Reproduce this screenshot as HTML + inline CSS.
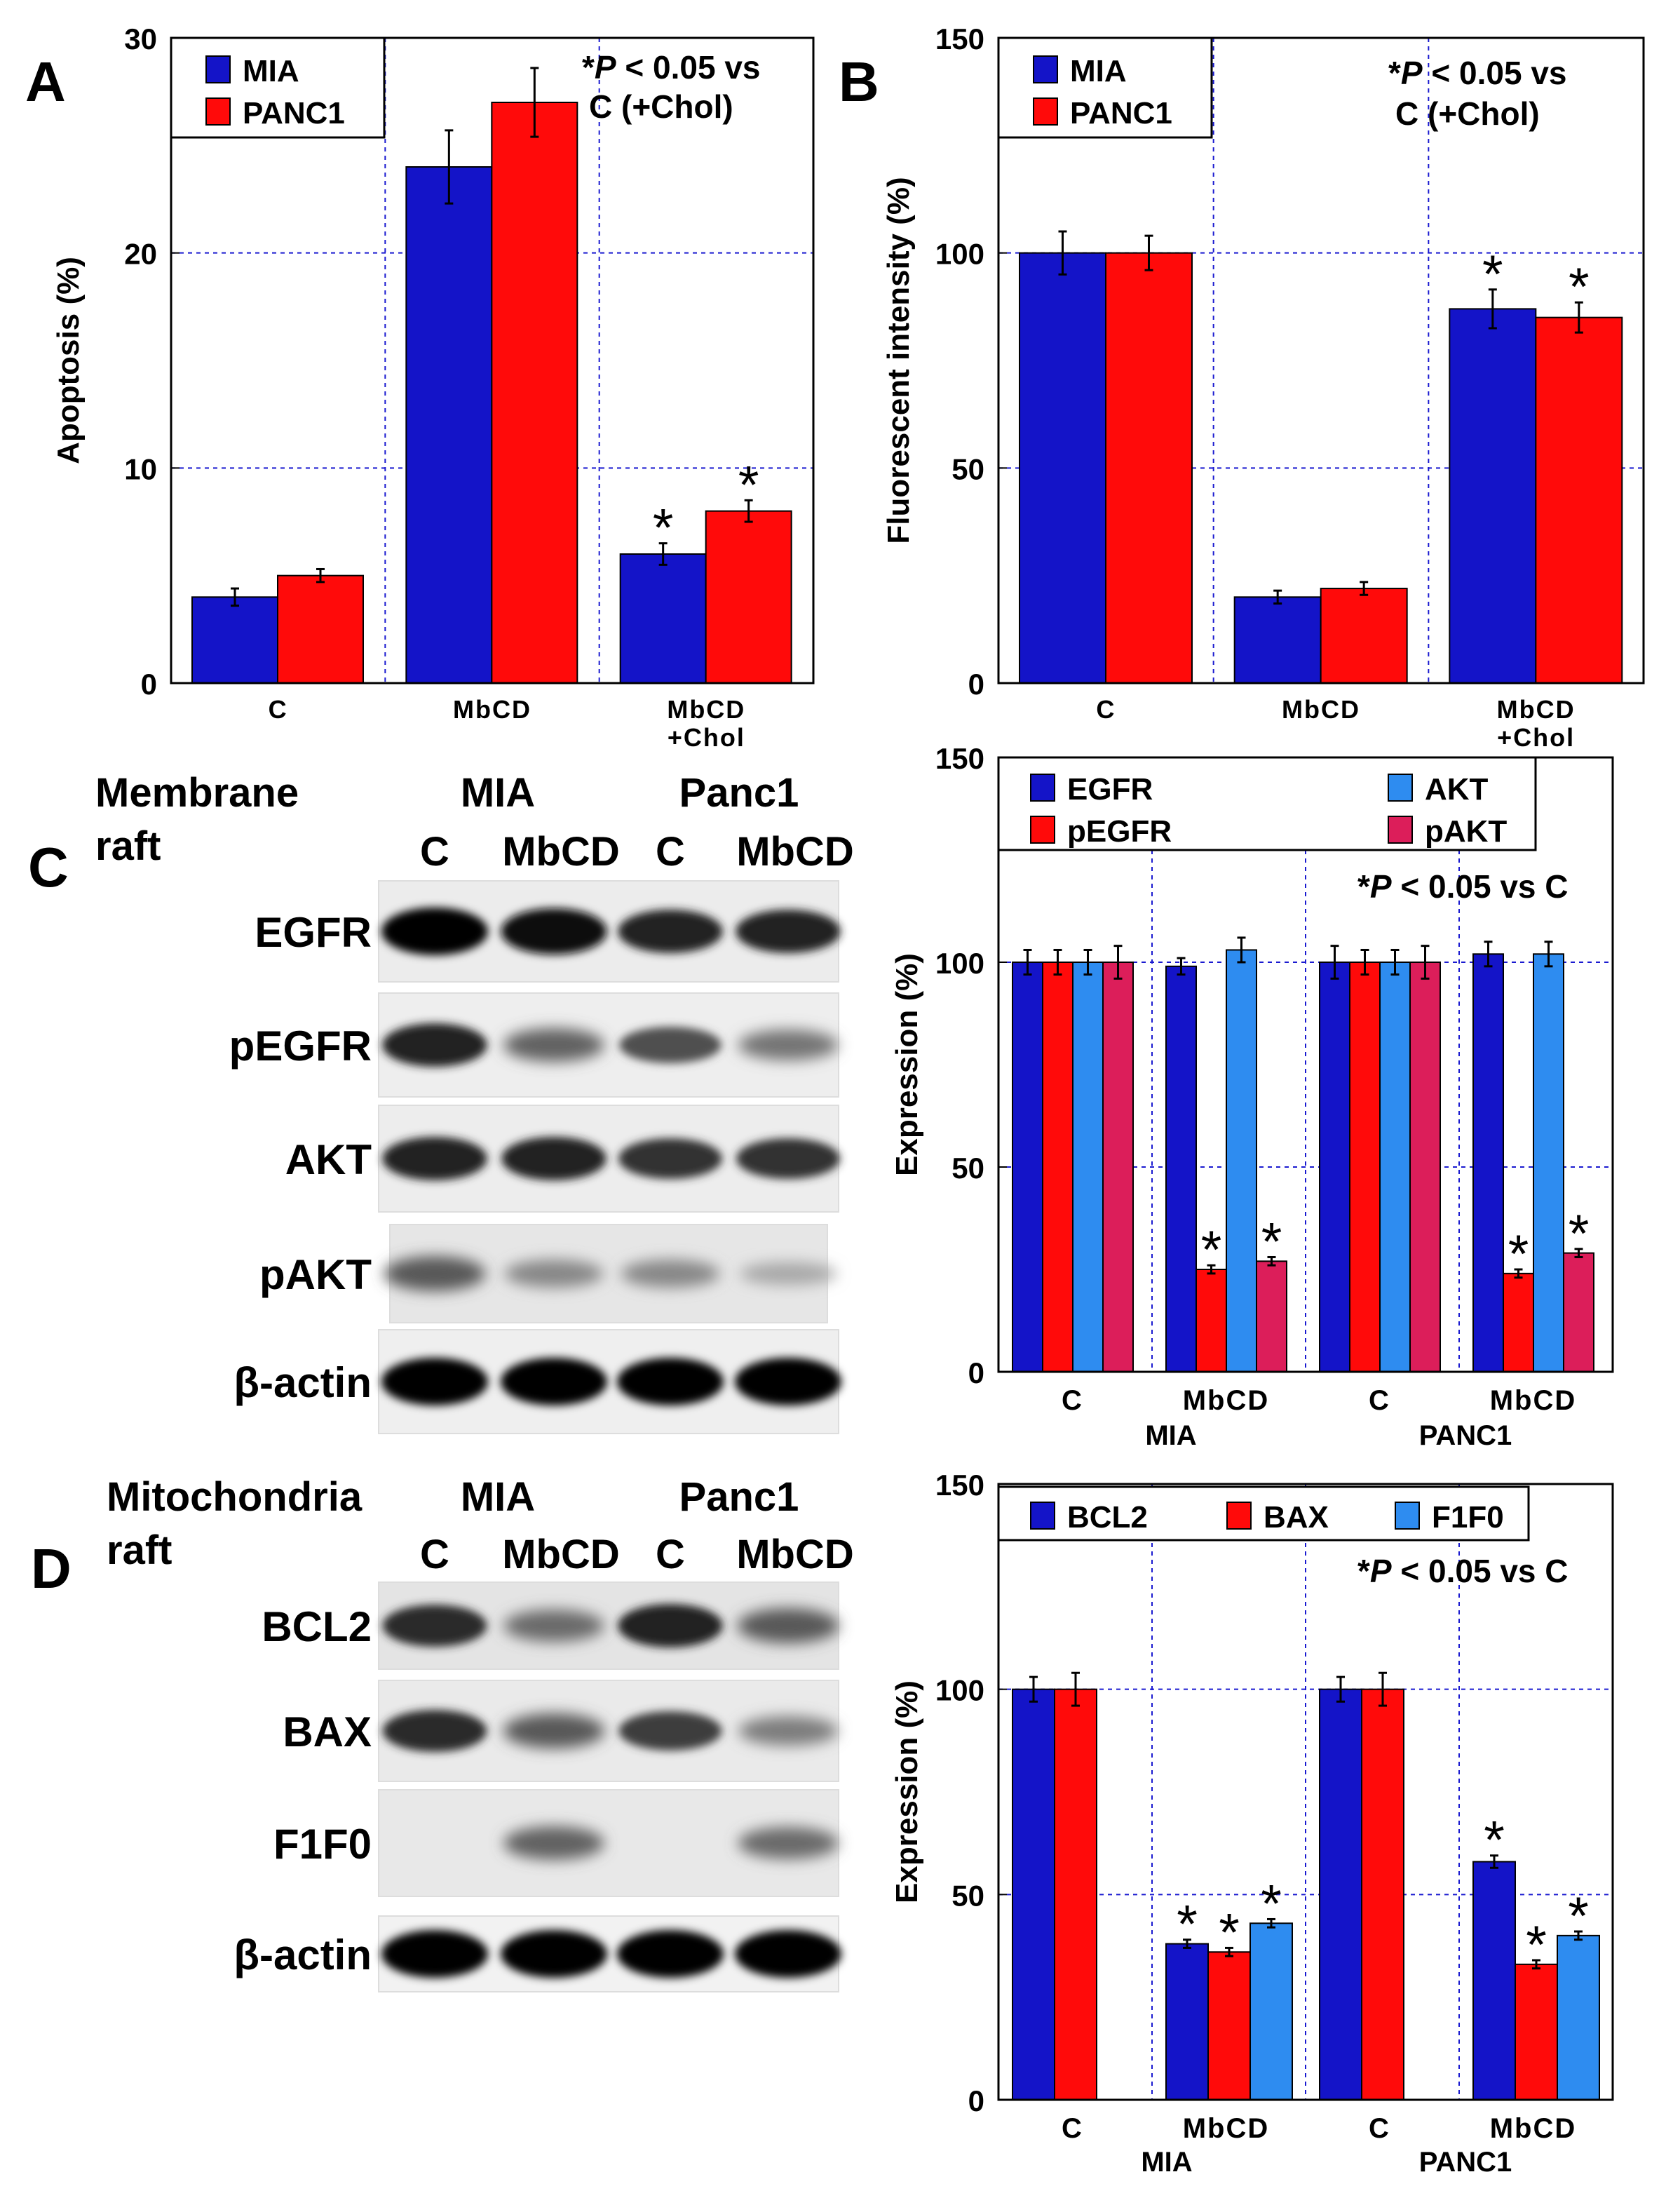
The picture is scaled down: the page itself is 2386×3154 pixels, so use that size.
<!DOCTYPE html>
<html><head><meta charset="utf-8"><style>
html,body{margin:0;padding:0;background:#fff;}
svg{display:block;font-family:"Liberation Sans",Arial,sans-serif;}
</style></head><body>
<svg id="fig" width="2386" height="3154" viewBox="0 0 1193 1577" xmlns="http://www.w3.org/2000/svg">
<defs>
<filter id="blur" x="-30%" y="-60%" width="160%" height="220%"><feGaussianBlur stdDeviation="3"/></filter>
<filter id="blur2" x="-30%" y="-60%" width="160%" height="220%"><feGaussianBlur stdDeviation="5"/></filter>
</defs>
<g id="root"></g>
</svg>
<script>
// ---------- Panel A data ----------
const aCategories = ["C", "MbCD", "MbCD\n+Chol"];
const aMIA = [4, 24, 6];
const aPANC1 = [5, 27, 8];
const aMIAErr = [0.4, 1.7, 0.5];
const aPANC1Err = [0.3, 1.6, 0.5];
const aStarsMIA = [false, false, true];
const aStarsPANC1 = [false, false, true];
const aTicks = [0, 10, 20, 30];
// ---------- Panel B data ----------
const bCategories = ["C", "MbCD", "MbCD\n+Chol"];
const bMIA = [100, 20, 87];
const bPANC1 = [100, 22, 85];
const bMIAErr = [5, 1.5, 4.5];
const bPANC1Err = [4, 1.5, 3.5];
const bStarsMIA = [false, false, true];
const bStarsPANC1 = [false, false, true];
const bTicks = [0, 50, 100, 150];
// ---------- Panel C chart data ----------
const cCategories = ["C", "MbCD", "C", "MbCD"];
const cEGFR = [100, 99, 100, 102];
const cPEGFR = [100, 25, 100, 24];
const cAKT = [100, 103, 100, 102];
const cPAKT = [100, 27, 100, 29];
const cErrEGFR = [3, 2, 4, 3];
const cErrPEGFR = [3, 1, 3, 1];
const cErrAKT = [3, 3, 3, 3];
const cErrPAKT = [4, 1, 4, 1];
const cStarsPEGFR = [false, true, false, true];
const cStarsPAKT = [false, true, false, true];
const cNoStars = [false, false, false, false];
const cTicks = [0, 50, 100, 150];
// ---------- Panel D chart data ----------
const dCategories = ["C", "MbCD", "C", "MbCD"];
const dBCL2 = [100, 38, 100, 58];
const dBAX = [100, 36, 100, 33];
const dF1F0 = [null, 43, null, 40];
const dErrBCL2 = [3, 1, 3, 1.5];
const dErrBAX = [4, 1, 4, 1];
const dErrF1F0 = [0, 1, 0, 1];
const dStarsBCL2 = [false, true, false, true];
const dStarsBAX = [false, true, false, true];
const dStarsF1F0 = [false, true, false, true];
const dTicks = [0, 50, 100, 150];
// ---------- Blot data (band intensities 0..1) ----------
const cBlotRows = ["EGFR", "pEGFR", "AKT", "pAKT", "β-actin"];
const cBlotBands = [[1,0.95,0.85,0.85],[0.85,0.5,0.6,0.4],[0.85,0.85,0.75,0.75],[0.55,0.3,0.3,0.12],[1,1,1,1]];
const dBlotRows = ["BCL2", "BAX", "F1F0", "β-actin"];
const dBlotBands = [[0.8,0.45,0.85,0.55],[0.8,0.55,0.7,0.35],[0,0.5,0,0.45],[1,1,1,1]];

const NS = "http://www.w3.org/2000/svg";
const root = document.getElementById("root");
function mk(tag, attrs, parent, txt){
  const e = document.createElementNS(NS, tag);
  for (const k in attrs) e.setAttribute(k, attrs[k]);
  if (txt !== undefined) e.textContent = txt;
  (parent || root).appendChild(e);
  return e;
}
const BLUE="#1414c8", RED="#ff0a0a", LBLUE="#2e8cf0", CRIM="#dc1e5a";

function chart(o){
  const g = mk("g", {});
  
  
  const y = v => o.y1 - (v - o.min) / (o.max - o.min) * (o.y1 - o.y0);
  const n = o.cats.length, gw = (o.x1 - o.x0) / n;
  o.ticks.forEach(t => {
    if (t > o.min && t < o.max) {
      const l = mk("line", {x1:o.x0, x2:o.x1, y1:y(t), y2:y(t), stroke:"#1a1ad0", "stroke-width":1, "stroke-dasharray":"3,3"}, g);
      
      
    }
    const tl = mk("text", {x:o.x0-10, y:y(t)+8, "text-anchor":"end", "font-size":21, "font-weight":"bold"}, g, t);
    
    
    mk("line", {x1:o.x0, x2:o.x0+6, y1:y(t), y2:y(t), stroke:"#000"}, g);
  });
  for (let i=1;i<n;i++){
    const vl = mk("line", {x1:o.x0+gw*i, x2:o.x0+gw*i, y1:o.y0, y2:o.y1, stroke:"#1a1ad0", "stroke-dasharray":"3,3"}, g);
    
    
  }
  o.series.forEach((s, si) => {
    s.vals.forEach((v, ci) => {
      if (v === null) return;
      const bx = o.x0 + gw*ci + o.off + si*o.bw;
      const r = mk("rect", {x:bx, y:y(v), width:o.bw, height:o.y1-y(v), fill:s.color, stroke:"#000", "stroke-width":1}, g);
      
      
      const e = s.err[ci], cx = bx + o.bw/2;
      if (e) {
        mk("line", {x1:cx, x2:cx, y1:y(v+e), y2:y(v-e), stroke:"#000", "stroke-width":1.5}, g);
        mk("line", {x1:cx-3, x2:cx+3, y1:y(v+e), y2:y(v+e), stroke:"#000", "stroke-width":1.5}, g);
        mk("line", {x1:cx-3, x2:cx+3, y1:y(v-e), y2:y(v-e), stroke:"#000", "stroke-width":1.5}, g);
      }
      if (s.stars[ci]) {
        const st = mk("text", {x:cx, y:y(v+(e||0))+2, "text-anchor":"middle", "font-size":38}, g, "*");
        
        
      }
    });
  });
  mk("rect", {x:o.x0, y:o.y0, width:o.x1-o.x0, height:o.y1-o.y0, fill:"none", stroke:"#000", "stroke-width":1.5}, g);
  o.cats.forEach((c, ci) => {
    c.split("\n").forEach((ln, li) => {
      const t = mk("text", {x:o.x0+gw*ci+gw/2+(o.labDx||0), y:o.y1+o.labY+li*20, "text-anchor":"middle", "font-size":o.labSize, "font-weight":"bold", "letter-spacing":"1"}, g, ln);
      
      
    });
  });
  const yt = mk("text", {x:0, y:0, transform:`translate(${o.x0-o.ytDx},${(o.y0+o.y1)/2}) rotate(-90)`, "text-anchor":"middle", "font-size":22, "font-weight":"bold"}, g, o.ytitle);
  
  
  return g;
}

function legend(x, y, w, h, entries, name){
  const g = mk("g", {});
  
  
  mk("rect", {x:x, y:y, width:w, height:h, fill:"#fff", stroke:"#000", "stroke-width":1.5}, g);
  entries.forEach(e => {
    const it = mk("g", {}, g);
    
    
    mk("rect", {x:e.x, y:e.y-16, width:17, height:19, fill:e.c, stroke:"#000"}, it);
    mk("text", {x:e.x+26, y:e.y+2, "font-size":22, "font-weight":"bold"}, it, e.t);
  });
}
function text(x, y, s, size, attrs, name){
  const a = Object.assign({x:x, y:y, "font-size":size}, attrs||{});
  const t = mk("text", a);
  t.innerHTML = s;
  
  
  return t;
}
const B = {"font-weight":"bold"};

chart({name:"chart-a", x0:122, x1:580, y0:27, y1:487, min:0, max:30, ticks:aTicks, cats:aCategories, off:15, bw:61, labY:25, labSize:18, ytitle:"Apoptosis (%)", ytDx:66,
  series:[{label:"MIA", color:BLUE, vals:aMIA, err:aMIAErr, stars:aStarsMIA},{label:"PANC1", color:RED, vals:aPANC1, err:aPANC1Err, stars:aStarsPANC1}]});
legend(122, 27, 152, 71, [{x:147,y:56,c:BLUE,t:"MIA"},{x:147,y:86,c:RED,t:"PANC1"}], "legend-a");
text(415, 56, "*<tspan font-style='italic'>P</tspan> &lt; 0.05 vs", 23, B, "note-a");
text(420, 84, "C (+Chol)", 23, B, "note-a2");
text(18, 72, "A", 40, B, "panel-letter-a");

chart({name:"chart-b", x0:712, x1:1172, y0:27, y1:487, min:0, max:150, ticks:bTicks, cats:bCategories, off:15, bw:61.5, labY:25, labSize:18, ytitle:"Fluorescent intensity (%)", ytDx:64,
  series:[{label:"MIA", color:BLUE, vals:bMIA, err:bMIAErr, stars:bStarsMIA},{label:"PANC1", color:RED, vals:bPANC1, err:bPANC1Err, stars:bStarsPANC1}]});
legend(712, 27, 152, 71, [{x:737,y:56,c:BLUE,t:"MIA"},{x:737,y:86,c:RED,t:"PANC1"}], "legend-b");
text(990, 60, "*<tspan font-style='italic'>P</tspan> &lt; 0.05 vs", 23, B, "note-b");
text(995, 89, "C (+Chol)", 23, B, "note-b2");
text(598, 72, "B", 40, B, "panel-letter-b");

chart({name:"chart-c", x0:712, x1:1150, y0:540, y1:978, min:0, max:150, ticks:cTicks, cats:cCategories, off:10, bw:21.5, labY:27, labSize:20, labDx:-2, ytitle:"Expression (%)", ytDx:58,
  series:[{label:"EGFR", color:BLUE, vals:cEGFR, err:cErrEGFR, stars:cNoStars},{label:"pEGFR", color:RED, vals:cPEGFR, err:cErrPEGFR, stars:cStarsPEGFR},{label:"AKT", color:LBLUE, vals:cAKT, err:cErrAKT, stars:cNoStars},{label:"pAKT", color:CRIM, vals:cPAKT, err:cErrPAKT, stars:cStarsPAKT}]});
legend(712, 540, 383, 66, [{x:735,y:568,c:BLUE,t:"EGFR"},{x:735,y:598,c:RED,t:"pEGFR"},{x:990,y:568,c:LBLUE,t:"AKT"},{x:990,y:598,c:CRIM,t:"pAKT"}], "legend-c");
text(968, 640, "*<tspan font-style='italic'>P</tspan> &lt; 0.05 vs C", 23, B, "note-c");
text(835, 1030, "MIA", 20, {"text-anchor":"middle","font-weight":"bold"}, "group-label-mia");
text(1045, 1030, "PANC1", 20, {"text-anchor":"middle","font-weight":"bold"}, "group-label-panc1");

chart({name:"chart-d", x0:712, x1:1150, y0:1058, y1:1497, min:0, max:150, ticks:dTicks, cats:dCategories, off:10, bw:30, labY:27, labSize:20, labDx:-2, ytitle:"Expression (%)", ytDx:58,
  series:[{label:"BCL2", color:BLUE, vals:dBCL2, err:dErrBCL2, stars:dStarsBCL2},{label:"BAX", color:RED, vals:dBAX, err:dErrBAX, stars:dStarsBAX},{label:"F1F0", color:LBLUE, vals:dF1F0, err:dErrF1F0, stars:dStarsF1F0}]});
legend(712, 1060, 378, 38, [{x:735,y:1087,c:BLUE,t:"BCL2"},{x:875,y:1087,c:RED,t:"BAX"},{x:995,y:1087,c:LBLUE,t:"F1F0"}], "legend-d");
text(968, 1128, "*<tspan font-style='italic'>P</tspan> &lt; 0.05 vs C", 23, B, "note-d");
text(832, 1548, "MIA", 20, {"text-anchor":"middle","font-weight":"bold"}, "group-label-mia-d");
text(1045, 1548, "PANC1", 20, {"text-anchor":"middle","font-weight":"bold"}, "group-label-panc1-d");

const laneX = [310, 395, 478, 562];
function blots(rows, bands, tops, hs, xs, name, bg){
  rows.forEach((r, ri) => {
    const g = mk("g", {});
    
    
    const [xa, xb] = xs[ri];
    mk("rect", {x:xa, y:tops[ri], width:xb-xa, height:hs[ri], fill:bg[ri], stroke:"#ddd"}, g);
    const cy = tops[ri] + hs[ri]/2;
    bands[ri].forEach((b, li) => {
      if (b <= 0) return;
      const shade = Math.round(190 - b*185);
      const col = `rgb(${shade},${shade},${shade})`;
      mk("ellipse", {cx:laneX[li], cy:cy, rx:34 + b*4, ry:7 + b*10, fill:col, filter: b<0.6?"url(#blur2)":"url(#blur)"}, g);
    });
    mk("text", {x:265, y:cy+11, "text-anchor":"end", "font-size":30, "font-weight":"bold"}, g, r);
  });
}
blots(cBlotRows, cBlotBands, [628,708,788,873,948], [72,74,76,70,74],
  [[270,598],[270,598],[270,598],[278,590],[270,598]], "blot-c", ["#ececec","#eeeeee","#ededed","#e6e6e6","#efefef"]);
blots(dBlotRows, dBlotBands, [1128,1198,1276,1366], [62,72,76,54],
  [[270,598],[270,598],[270,598],[270,598]], "blot-d", ["#e4e4e4","#eaeaea","#e8e8e8","#f2f2f2"]);

text(68, 575, "Membrane", 29, B, "header-membrane");
text(68, 613, "raft", 29, B, "header-raft");
text(355, 575, "MIA", 29, {"font-weight":"bold","text-anchor":"middle"}, "header-mia-c");
text(527, 575, "Panc1", 29, {"font-weight":"bold","text-anchor":"middle"}, "header-panc1-c");
text(310, 617, "C", 29, {"font-weight":"bold","text-anchor":"middle"}, "lane-c1");
text(400, 617, "MbCD", 29, {"font-weight":"bold","text-anchor":"middle"}, "lane-c2");
text(478, 617, "C", 29, {"font-weight":"bold","text-anchor":"middle"}, "lane-c3");
text(567, 617, "MbCD", 29, {"font-weight":"bold","text-anchor":"middle"}, "lane-c4");
text(20, 632, "C", 40, B, "panel-letter-c");
text(76, 1077, "Mitochondria", 29, B, "header-mito");
text(76, 1115, "raft", 29, B, "header-raft-d");
text(355, 1077, "MIA", 29, {"font-weight":"bold","text-anchor":"middle"}, "header-mia-d");
text(527, 1077, "Panc1", 29, {"font-weight":"bold","text-anchor":"middle"}, "header-panc1-d");
text(310, 1118, "C", 29, {"font-weight":"bold","text-anchor":"middle"}, "lane-d1");
text(400, 1118, "MbCD", 29, {"font-weight":"bold","text-anchor":"middle"}, "lane-d2");
text(478, 1118, "C", 29, {"font-weight":"bold","text-anchor":"middle"}, "lane-d3");
text(567, 1118, "MbCD", 29, {"font-weight":"bold","text-anchor":"middle"}, "lane-d4");
text(22, 1132, "D", 40, B, "panel-letter-d");
</script>
</body></html>
